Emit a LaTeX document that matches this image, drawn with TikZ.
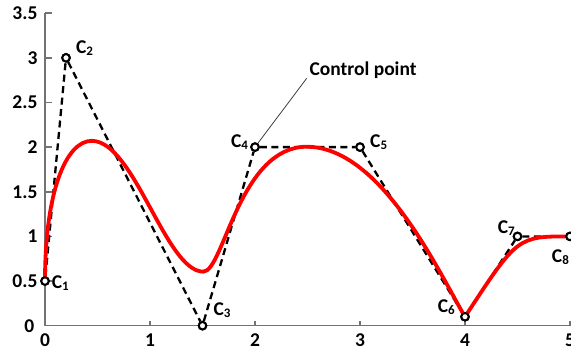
\documentclass[tikz,border=0pt]{standalone}
\usepackage{fontspec}
\setmainfont{Carlito}
\newcommand{\Cs}[1]{C\raisebox{-2pt}{\fontsize{13}{13}\selectfont #1}}
\begin{document}
\begin{tikzpicture}[x=105pt,y=89.3pt,
  font=\fontsize{19.5}{21}\selectfont\bfseries,
  axisline/.style={draw=black!55,line width=1.5pt},
  ticklab/.style={inner sep=0pt},
  cpt/.style={circle,draw=black,fill=white,line width=2pt,minimum size=7.5pt,inner sep=0pt},
  clab/.style={inner sep=0pt},
  polyline/.style={line width=2.3pt,dash pattern=on 7pt off 4.5pt},
  curve/.style={draw=red,line width=3.8pt}]
\useasboundingbox (-0.4286,-0.2945) rectangle (5.0095,3.6473);
% axes
\coordinate (o) at (0,0);
\coordinate (xe) at (5,0);
\coordinate (ye) at (0,3.5);
\draw[axisline] (ye) -- (o) -- (xe);
\foreach \v in {0.5,1,1.5,2,2.5,3,3.5}{
  \draw[axisline] (0,\v) -- ++(6.5pt,0);
  \node[ticklab,anchor=east] at (-0.07,\v) {\v};
}
\node[ticklab,anchor=east] at (-0.1,0) {0};
\foreach \v in {1,2,3,4,5}{
  \draw[axisline] (\v,0) -- ++(0,5pt);
}
\foreach \v in {0,1,2,3,4,5}{
  \node[ticklab] at (\v,-0.16) {\v};
}
% control points
\node[cpt] (c1) at (0,0.5) {};
\node[cpt] (c2) at (0.2,3) {};
\node[cpt] (c3) at (1.5,0) {};
\node[cpt] (c4) at (2,2) {};
\node[cpt] (c5) at (3,2) {};
\node[cpt] (c6) at (4,0.1) {};
\node[cpt] (c7) at (4.5,1) {};
\node[cpt] (c8) at (5,1) {};
% control polygon
\draw[polyline] (c1) -- (c2) -- (c3) -- (c4) -- (c5) -- (c6) -- (c7) -- (c8);
% curve
\draw[curve] (c1.center)
  .. controls (0,1.5) and (0.2,2.07) .. (0.445,2.07)
  .. controls (0.85,2.07) and (1.15,0.605) .. (1.508,0.605)
  .. controls (1.7,0.605) and (1.85,2.004) .. (2.492,2.004)
  .. controls (3.2,2.004) and (3.75,0.6) .. (c6.center)
  .. controls (c7.center) .. (c8.center);
% redraw circles on top
\foreach \n in {c1,c2,c3,c4,c5,c6,c7,c8}{
  \node[cpt] at (\n) {};
}
% labels
\node[clab,anchor=west] at (0.064,0.475) {\Cs{1}};
\node[clab,anchor=west] at (0.295,3.106) {\Cs{2}};
\node[clab,anchor=west] at (1.603,0.176) {\Cs{3}};
\node[clab,anchor=east] at (1.936,2.06) {\Cs{4}};
\node[clab,anchor=west] at (3.095,2.06) {\Cs{5}};
\node[clab,anchor=east] at (3.905,0.213) {\Cs{6}};
\node[clab,anchor=east] at (4.476,1.091) {\Cs{7}};
\node[clab,anchor=west] at (4.826,0.773) {\Cs{8}};
\node[clab] (cp) at (3.029,2.863) {Control point};
\coordinate (cpl) at (2.492,2.77);
\draw[black!75,line width=0.8pt] (cpl) -- (c4);
\end{tikzpicture}
\end{document}
